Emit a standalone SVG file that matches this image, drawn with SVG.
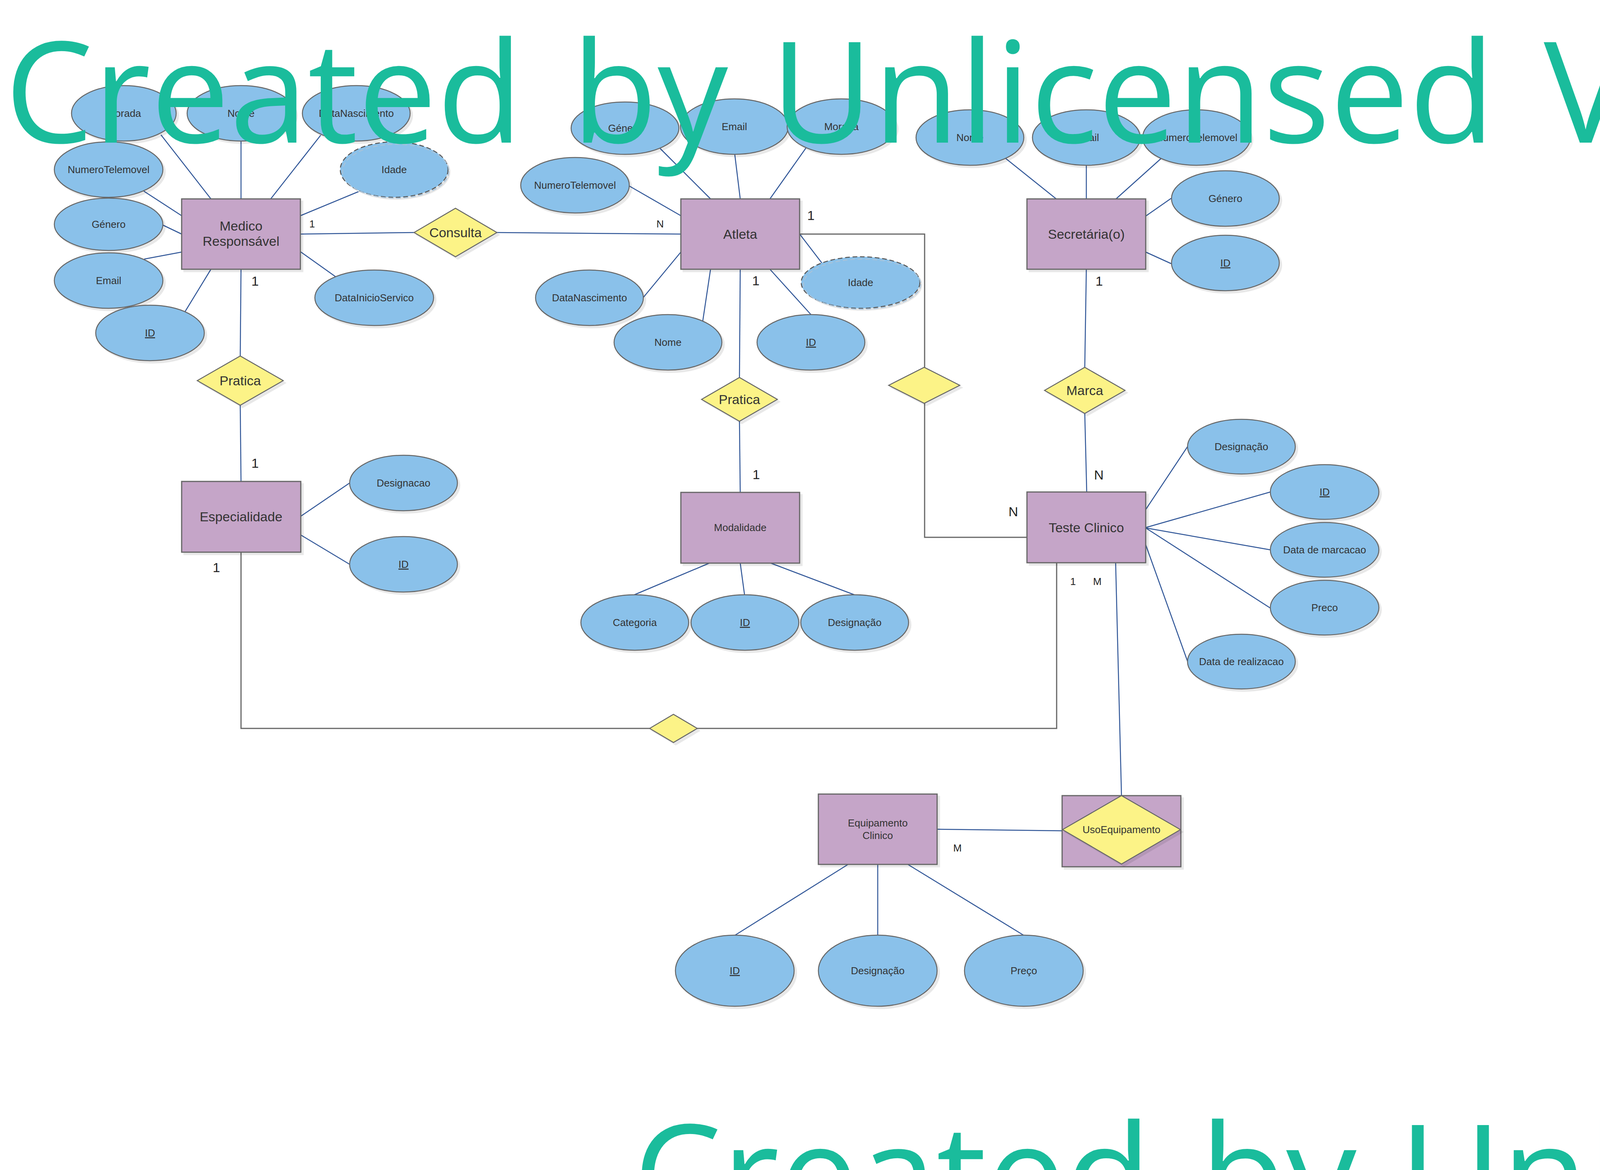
<svg xmlns="http://www.w3.org/2000/svg" width="4234" height="2994" viewBox="0 0 4234 2994">
<defs>
<filter id="sh" x="-10%" y="-10%" width="130%" height="130%">
<feOffset in="SourceAlpha" dx="6" dy="6" result="o"/>
<feFlood flood-color="#000" flood-opacity="0.09"/>
<feComposite in2="o" operator="in" result="s"/>
<feMerge><feMergeNode in="s"/><feMergeNode in="SourceGraphic"/></feMerge>
</filter>
<style>
.a{fill:#8AC1EA;stroke:#666;stroke-width:2.5}
.d{fill:#8AC1EA;stroke:#555;stroke-width:2.5;stroke-dasharray:12 7}
.d2{fill:none;stroke:#A9C3D9;stroke-width:2.5;stroke-dasharray:12 7}
.e{fill:#C5A5C8;stroke:#666;stroke-width:3}
.r{fill:#FCF387;stroke:#666;stroke-width:2.5}
.c line{stroke:#2F5597;stroke-width:2.5}
.c polyline{stroke:#666;stroke-width:3;fill:none}
text{font-family:"Liberation Sans",Arial,sans-serif;fill:#333;text-anchor:middle}
.s{font-size:26px}
.b{font-size:34px}
.k{fill:#222}
.u{text-decoration:underline}
.wm{font-family:"Open Sans","Noto Sans",sans-serif;font-size:360px;fill:#1ABC9C;text-anchor:start}
</style>
</defs>
<rect width="4234" height="2994" fill="#fff"/>

<g id="connectors" class="c">
<line x1="412" y1="345" x2="540" y2="509"/>
<line x1="617" y1="361" x2="617" y2="509"/>
<line x1="821" y1="346" x2="693" y2="509"/>
<line x1="368" y1="489" x2="465" y2="552"/>
<line x1="921" y1="489" x2="769" y2="552"/>
<line x1="417" y1="576" x2="465" y2="599"/>
<line x1="369" y1="663" x2="465" y2="645"/>
<line x1="474" y1="797" x2="540" y2="689"/>
<line x1="859" y1="708" x2="769" y2="644"/>
<line x1="769" y1="599" x2="1060" y2="595"/>
<line x1="1272" y1="595" x2="1743" y2="599"/>
<line x1="617" y1="689" x2="615" y2="911"/>
<line x1="615" y1="1037" x2="617" y2="1232"/>
<line x1="770" y1="1321" x2="895" y2="1236"/>
<line x1="770" y1="1369" x2="895" y2="1444"/>
<line x1="1690" y1="380" x2="1819" y2="509"/>
<line x1="1881" y1="395" x2="1895" y2="509"/>
<line x1="2063" y1="379" x2="1971" y2="509"/>
<line x1="1611" y1="476" x2="1743" y2="552"/>
<line x1="1647" y1="761" x2="1743" y2="645"/>
<line x1="1799" y1="822" x2="1819" y2="689"/>
<line x1="2076" y1="805" x2="1971" y2="689"/>
<line x1="2104" y1="673" x2="2048" y2="600"/>
<line x1="1895" y1="689" x2="1893" y2="966"/>
<line x1="1893" y1="1078" x2="1895" y2="1260"/>
<line x1="1624" y1="1522" x2="1816" y2="1441"/>
<line x1="1906" y1="1522" x2="1895" y2="1441"/>
<line x1="2187" y1="1522" x2="1973" y2="1441"/>
<line x1="2574" y1="405" x2="2704" y2="509"/>
<line x1="2781" y1="423" x2="2781" y2="509"/>
<line x1="2973" y1="405" x2="2857" y2="509"/>
<line x1="2999" y1="507" x2="2933" y2="553"/>
<line x1="2999" y1="675" x2="2933" y2="645"/>
<line x1="2781" y1="689" x2="2777" y2="940"/>
<line x1="2777" y1="1058" x2="2782" y2="1259"/>
<line x1="3040" y1="1143" x2="2933" y2="1304"/>
<line x1="3252" y1="1259" x2="2933" y2="1350"/>
<line x1="3252" y1="1407" x2="2933" y2="1351"/>
<line x1="3252" y1="1556" x2="2933" y2="1351"/>
<line x1="3040" y1="1692" x2="2933" y2="1394"/>
<line x1="2856" y1="1440" x2="2871" y2="2036"/>
<line x1="2399" y1="2122" x2="2720" y2="2126"/>
<line x1="1882" y1="2393" x2="2171" y2="2212"/>
<line x1="2247" y1="2393" x2="2247" y2="2212"/>
<line x1="2620" y1="2393" x2="2324" y2="2212"/>
<polyline points="2047,599 2367,599 2367,940"/>
<polyline points="2367,1032 2367,1375 2629,1375"/>
<polyline points="617,1413 617,1864 1663,1864"/>
<polyline points="1785,1864 2705,1864 2705,1440"/>
</g>

<g id="labels">
<text class="s k" x="799" y="582">1</text>
<text class="b k" x="653" y="731">1</text>
<text class="s k" x="1690" y="582">N</text>
<text class="b k" x="2076" y="563">1</text>
<text class="b k" x="1935" y="730">1</text>
<text class="b k" x="2814" y="731">1</text>
<text class="b k" x="2813" y="1227">N</text>
<text class="b k" x="2594" y="1321">N</text>
<text class="s k" x="2747" y="1497">1</text>
<text class="s k" x="2809" y="1497">M</text>
<text class="b k" x="653" y="1197">1</text>
<text class="b k" x="554" y="1464">1</text>
<text class="b k" x="1936" y="1226">1</text>
<text class="s k" x="2451" y="2179">M</text>
</g>

<g id="medico"><rect class="e" filter="url(#sh)" x="465" y="509" width="304" height="180"/><text class="b" x="617" y="590">Medico</text><text class="b" x="617" y="629">Responsável</text></g>
<g id="atleta"><rect class="e" filter="url(#sh)" x="1743" y="509" width="304" height="180"/><text class="b" x="1895" y="611">Atleta</text></g>
<g id="secretaria"><rect class="e" filter="url(#sh)" x="2629" y="509" width="304" height="180"/><text class="b" x="2781" y="611">Secretária(o)</text></g>
<g id="especialidade"><rect class="e" filter="url(#sh)" x="465" y="1232" width="305" height="181"/><text class="b" x="617" y="1334">Especialidade</text></g>
<g id="modalidade"><rect class="e" filter="url(#sh)" x="1743" y="1260" width="304" height="181"/><text class="s" x="1895" y="1359">Modalidade</text></g>
<g id="teste-clinico"><rect class="e" filter="url(#sh)" x="2629" y="1259" width="304" height="181"/><text class="b" x="2781" y="1362">Teste Clinico</text></g>
<g id="equipamento"><rect class="e" filter="url(#sh)" x="2095" y="2032" width="304" height="180"/><text class="s" x="2247" y="2115">Equipamento</text><text class="s" x="2247" y="2147">Clinico</text></g>
<g id="uso-equipamento"><rect class="e" filter="url(#sh)" x="2719" y="2036" width="304" height="182"/><polygon class="r" filter="url(#sh)" points="2720,2123 2871,2036 3022,2123 2871,2211"/><text class="s" x="2871" y="2132">UsoEquipamento</text></g>

<g id="consulta"><polygon class="r" filter="url(#sh)" points="1060,595 1166,533 1272,595 1166,657"/><text class="b" x="1166" y="607">Consulta</text></g>
<g id="pratica-medico"><polygon class="r" filter="url(#sh)" points="505,974 615,911 725,974 615,1037"/><text class="b" x="615" y="986">Pratica</text></g>
<g id="pratica-atleta"><polygon class="r" filter="url(#sh)" points="1796,1022 1893,966 1990,1022 1893,1078"/><text class="b" x="1893" y="1034">Pratica</text></g>
<g id="rel-atleta-teste"><polygon class="r" filter="url(#sh)" points="2275,986 2366,940 2457,986 2366,1032"/></g>
<g id="marca"><polygon class="r" filter="url(#sh)" points="2674,999 2777,940 2880,999 2777,1058"/><text class="b" x="2777" y="1011">Marca</text></g>
<g id="rel-esp-teste"><polygon class="r" filter="url(#sh)" points="1663,1864 1724,1828 1785,1864 1724,1900"/></g>

<g id="m-morada"><ellipse class="a" filter="url(#sh)" cx="317" cy="290" rx="134" ry="71"/><text class="s" x="317" y="299">Morada</text></g>
<g id="m-nome"><ellipse class="a" filter="url(#sh)" cx="617" cy="290" rx="138" ry="71"/><text class="s" x="617" y="299">Nome</text></g>
<g id="m-datanasc"><ellipse class="a" filter="url(#sh)" cx="912" cy="290" rx="138" ry="71"/><text class="s" x="912" y="299">DataNascimento</text></g>
<g id="m-numtel"><ellipse class="a" filter="url(#sh)" cx="278" cy="434" rx="139" ry="71"/><text class="s" x="278" y="443">NumeroTelemovel</text></g>
<g id="m-idade"><ellipse cx="1009" cy="434" rx="138" ry="71" fill="#E6E6E6" transform="translate(6,6)"/><ellipse class="d" cx="1009" cy="434" rx="138" ry="71"/><ellipse class="d2" cx="1013" cy="438" rx="136" ry="69"/><text class="s" x="1009" y="443">Idade</text></g>
<g id="m-genero"><ellipse class="a" filter="url(#sh)" cx="278" cy="574" rx="139" ry="67"/><text class="s" x="278" y="583">Género</text></g>
<g id="m-email"><ellipse class="a" filter="url(#sh)" cx="278" cy="718" rx="139" ry="71"/><text class="s" x="278" y="727">Email</text></g>
<g id="m-id"><ellipse class="a" filter="url(#sh)" cx="384" cy="852" rx="139" ry="71"/><text class="s u" x="384" y="861">ID</text></g>
<g id="m-datainicio"><ellipse class="a" filter="url(#sh)" cx="958" cy="762" rx="152" ry="71"/><text class="s" x="958" y="771">DataInicioServico</text></g>

<g id="a-genero"><ellipse class="a" filter="url(#sh)" cx="1600" cy="328" rx="138" ry="67"/><text class="s" x="1600" y="337">Género</text></g>
<g id="a-email"><ellipse class="a" filter="url(#sh)" cx="1880" cy="324" rx="138" ry="71"/><text class="s" x="1880" y="333">Email</text></g>
<g id="a-morada"><ellipse class="a" filter="url(#sh)" cx="2154" cy="324" rx="139" ry="71"/><text class="s" x="2154" y="333">Morada</text></g>
<g id="a-numtel"><ellipse class="a" filter="url(#sh)" cx="1472" cy="474" rx="139" ry="71"/><text class="s" x="1472" y="483">NumeroTelemovel</text></g>
<g id="a-datanasc"><ellipse class="a" filter="url(#sh)" cx="1509" cy="762" rx="138" ry="71"/><text class="s" x="1509" y="771">DataNascimento</text></g>
<g id="a-nome"><ellipse class="a" filter="url(#sh)" cx="1710" cy="876" rx="138" ry="71"/><text class="s" x="1710" y="885">Nome</text></g>
<g id="a-id"><ellipse class="a" filter="url(#sh)" cx="2076" cy="876" rx="138" ry="71"/><text class="s u" x="2076" y="885">ID</text></g>
<g id="a-idade"><ellipse cx="2203" cy="723" rx="152" ry="66" fill="#E6E6E6" transform="translate(6,6)"/><ellipse class="d" cx="2203" cy="723" rx="152" ry="66"/><ellipse class="d2" cx="2207" cy="727" rx="150" ry="64"/><text class="s" x="2203" y="732">Idade</text></g>

<g id="s-nome"><ellipse class="a" filter="url(#sh)" cx="2483" cy="352" rx="138" ry="71"/><text class="s" x="2483" y="361">Nome</text></g>
<g id="s-email"><ellipse class="a" filter="url(#sh)" cx="2781" cy="352" rx="138" ry="71"/><text class="s" x="2781" y="361">Email</text></g>
<g id="s-numtel"><ellipse class="a" filter="url(#sh)" cx="3063" cy="352" rx="138" ry="71"/><text class="s" x="3063" y="361">NumeroTelemovel</text></g>
<g id="s-genero"><ellipse class="a" filter="url(#sh)" cx="3137" cy="508" rx="138" ry="71"/><text class="s" x="3137" y="517">Género</text></g>
<g id="s-id"><ellipse class="a" filter="url(#sh)" cx="3137" cy="673" rx="138" ry="71"/><text class="s u" x="3137" y="682">ID</text></g>

<g id="e-designacao"><ellipse class="a" filter="url(#sh)" cx="1033" cy="1236" rx="138" ry="71"/><text class="s" x="1033" y="1245">Designacao</text></g>
<g id="e-id"><ellipse class="a" filter="url(#sh)" cx="1033" cy="1444" rx="138" ry="71"/><text class="s u" x="1033" y="1453">ID</text></g>

<g id="mo-categoria"><ellipse class="a" filter="url(#sh)" cx="1625" cy="1593" rx="138" ry="71"/><text class="s" x="1625" y="1602">Categoria</text></g>
<g id="mo-id"><ellipse class="a" filter="url(#sh)" cx="1907" cy="1593" rx="138" ry="71"/><text class="s u" x="1907" y="1602">ID</text></g>
<g id="mo-designacao"><ellipse class="a" filter="url(#sh)" cx="2188" cy="1593" rx="138" ry="71"/><text class="s" x="2188" y="1602">Designação</text></g>

<g id="t-designacao"><ellipse class="a" filter="url(#sh)" cx="3178" cy="1143" rx="138" ry="70"/><text class="s" x="3178" y="1152">Designação</text></g>
<g id="t-id"><ellipse class="a" filter="url(#sh)" cx="3391" cy="1259" rx="139" ry="70"/><text class="s u" x="3391" y="1268">ID</text></g>
<g id="t-datamarc"><ellipse class="a" filter="url(#sh)" cx="3391" cy="1407" rx="139" ry="70"/><text class="s" x="3391" y="1416">Data de marcacao</text></g>
<g id="t-preco"><ellipse class="a" filter="url(#sh)" cx="3391" cy="1555" rx="139" ry="70"/><text class="s" x="3391" y="1564">Preco</text></g>
<g id="t-datareal"><ellipse class="a" filter="url(#sh)" cx="3178" cy="1693" rx="138" ry="70"/><text class="s" x="3178" y="1702">Data de realizacao</text></g>

<g id="q-id"><ellipse class="a" filter="url(#sh)" cx="1881" cy="2484" rx="152" ry="91"/><text class="s u" x="1881" y="2493">ID</text></g>
<g id="q-designacao"><ellipse class="a" filter="url(#sh)" cx="2247" cy="2484" rx="152" ry="91"/><text class="s" x="2247" y="2493">Designação</text></g>
<g id="q-preco"><ellipse class="a" filter="url(#sh)" cx="2621" cy="2484" rx="152" ry="91"/><text class="s" x="2621" y="2493">Preço</text></g>

<g id="watermark">
<text class="wm" y="365"><tspan x="12">Created</tspan><tspan x="1463">by</tspan><tspan x="1973">Unlicensed</tspan><tspan x="3952">Version</tspan></text>
<text class="wm" y="3136"><tspan x="1621">Created</tspan><tspan x="3072">by</tspan><tspan x="3582">Unlicensed</tspan></text>
</g>
</svg>
